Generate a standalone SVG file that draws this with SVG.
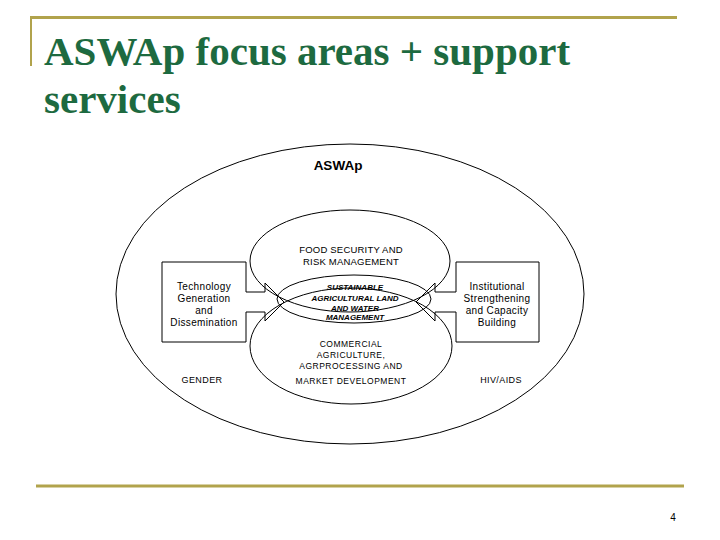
<svg xmlns="http://www.w3.org/2000/svg" width="720" height="540" viewBox="0 0 720 540">
<style>
.title{font-family:"Liberation Serif","Times New Roman",serif;font-weight:bold;font-size:41px;fill:#1d6a40}
.gold{stroke:#b1a34c;fill:none}
.ln{stroke:#000;stroke-width:1;fill:none}
.box{stroke:#000;stroke-width:1;fill:#fff}
.t{font-family:"Liberation Sans",Arial,sans-serif;fill:#000;text-anchor:middle}
.s10{font-size:10px;letter-spacing:0.35px}
.cap{font-size:9.5px;letter-spacing:0.2px}
.com{font-size:8.5px;letter-spacing:0.5px}
.sus{font-size:8px;font-style:italic;font-weight:bold}
</style>
<rect width="720" height="540" fill="#fff"/>
<g id="frame">
<line class="gold" x1="30" y1="17.5" x2="677" y2="17.5" stroke-width="3"/>
<line class="gold" x1="31" y1="17" x2="31" y2="66" stroke-width="2"/>
<line class="gold" x1="36" y1="486" x2="684" y2="486" stroke-width="3"/>
</g>
<text class="title" x="44" y="65">ASWAp focus areas + support</text>
<text class="title" x="44" y="113">services</text>
<g id="aswap">
<ellipse class="ln" cx="350" cy="294" rx="234" ry="150" fill="#fff"/>
<text class="t" x="338" y="170" style="font-size:13.5px;font-weight:bold">ASWAp</text>
</g>
<g id="food-security">
<ellipse class="ln" cx="350" cy="261" rx="100" ry="51"/>
<text class="t cap" x="351" y="253">FOOD SECURITY AND</text>
<text class="t cap" x="351" y="265">RISK MANAGEMENT</text>
</g>
<g id="sustainable">
<ellipse class="ln" cx="354" cy="299" rx="77" ry="24"/>
<text class="t sus" x="355" y="290">SUSTAINABLE</text>
<text class="t sus" x="355" y="301">AGRICULTURAL LAND</text>
<text class="t sus" x="355" y="311">AND WATER</text>
<text class="t sus" x="355" y="320">MANAGEMENT</text>
</g>
<g id="commercial">
<ellipse class="ln" cx="351" cy="346" rx="101" ry="58"/>
<text class="t com" x="351" y="347">COMMERCIAL</text>
<text class="t com" x="351" y="358">AGRICULTURE,</text>
<text class="t com" x="351" y="369">AGRPROCESSING AND</text>
<text class="t com" x="351" y="384">MARKET DEVELOPMENT</text>
</g>
<g id="technology">
<path class="box" d="M246,292 V262 H162 V342 H246 V312"/>
<text class="t s10" x="204" y="290">Technology</text>
<text class="t s10" x="204" y="302">Generation</text>
<text class="t s10" x="204" y="314">and</text>
<text class="t s10" x="204" y="326">Dissemination</text>
</g>
<g id="institutional">
<path class="box" d="M456,292 V262 H539 V342 H456 V312"/>
<text class="t s10" x="497" y="290">Institutional</text>
<text class="t s10" x="497" y="302">Strengthening</text>
<text class="t s10" x="497" y="314">and Capacity</text>
<text class="t s10" x="497" y="326">Building</text>
</g>
<g id="gender">
<text class="t" x="202" y="383" style="font-size:9px;letter-spacing:0.4px">GENDER</text>
</g>
<g id="hivaids">
<text class="t" x="501" y="383" style="font-size:9px;letter-spacing:0.4px">HIV/AIDS</text>
</g>
<g id="connectors">
<path class="ln" d="M246,292 H265 V283 L284,302 L265,321 V312 H246"/>
<path class="ln" d="M456,292 H435 V283 L416,302 L435,321 V312 H456"/>
</g>
<text class="t" x="673" y="521" style="font-size:10px">4</text>
</svg>
